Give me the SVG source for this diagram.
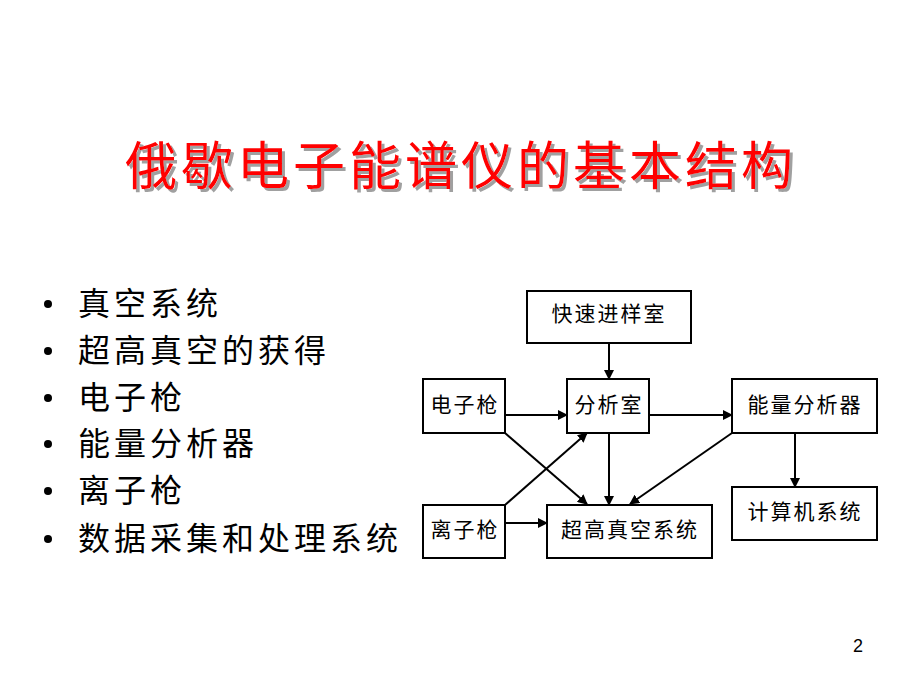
<svg xmlns="http://www.w3.org/2000/svg" width="920" height="690" viewBox="0 0 920 690">
<defs>
<marker id="ah" markerWidth="10" markerHeight="10" refX="9" refY="5" orient="auto" markerUnits="userSpaceOnUse">
<path d="M0,0 L10,5 L0,10 z" fill="#000"/>
</marker>
<filter id="sh" x="-5%" y="-20%" width="110%" height="140%">
<feDropShadow dx="3" dy="3" stdDeviation="0.6" flood-color="#888" flood-opacity="0.8"/>
</filter>
<style>
.box{fill:#fff;stroke:#000;stroke-width:2}
.lbl{font-family:"Noto Sans CJK SC","Liberation Sans",sans-serif;font-size:21px;fill:#000;text-anchor:middle;letter-spacing:2px}
.bul{font-family:"Noto Sans CJK SC","Liberation Sans",sans-serif;font-size:32px;fill:#000;letter-spacing:4px}
.con{stroke:#000;stroke-width:2;fill:none;marker-end:url(#ah)}
.title{font-family:"Noto Sans CJK SC","Liberation Sans",sans-serif;font-size:52px;font-weight:400;text-anchor:middle;letter-spacing:4px}
</style>
</defs>
<rect width="920" height="690" fill="#fff"/>
<g id="title">
<text class="title" x="461" y="185" fill="#ff0000" filter="url(#sh)">俄歇电子能谱仪的基本结构</text>
</g>
<g id="bullets">
<circle cx="48" cy="304" r="4" fill="#000"/>
<text class="bul" x="78" y="315">真空系统</text>
<circle cx="48" cy="351" r="4" fill="#000"/>
<text class="bul" x="78" y="362">超高真空的获得</text>
<circle cx="48" cy="398" r="4" fill="#000"/>
<text class="bul" x="78" y="409">电子枪</text>
<circle cx="48" cy="444" r="4" fill="#000"/>
<text class="bul" x="78" y="455">能量分析器</text>
<circle cx="48" cy="491" r="4" fill="#000"/>
<text class="bul" x="78" y="502">离子枪</text>
<circle cx="48" cy="539" r="4" fill="#000"/>
<text class="bul" x="78" y="550">数据采集和处理系统</text>
</g>
<g id="connectors">
<line class="con" x1="609" y1="343" x2="609" y2="379"/>
<line class="con" x1="505" y1="415" x2="567" y2="415"/>
<line class="con" x1="649" y1="415" x2="732" y2="415"/>
<line class="con" x1="609" y1="433" x2="609" y2="505"/>
<line class="con" x1="795" y1="433" x2="795" y2="487"/>
<line class="con" x1="505" y1="523" x2="547" y2="523"/>
<line class="con" x1="505" y1="433" x2="587" y2="504"/>
<line class="con" x1="505" y1="505" x2="587" y2="433"/>
<line class="con" x1="732" y1="433" x2="630" y2="504"/>
</g>
<g id="n-kuaisu">
<rect class="box" x="527" y="291" width="164" height="52"/>
<text class="lbl" x="609" y="321">快速进样室</text>
</g>
<g id="n-dianziqiang">
<rect class="box" x="423" y="379" width="82" height="54"/>
<text class="lbl" x="465" y="412">电子枪</text>
</g>
<g id="n-fenxishi">
<rect class="box" x="567" y="379" width="82" height="54"/>
<text class="lbl" x="609" y="412">分析室</text>
</g>
<g id="n-nengliang">
<rect class="box" x="732" y="379" width="145" height="54"/>
<text class="lbl" x="805" y="412">能量分析器</text>
</g>
<g id="n-jisuanji">
<rect class="box" x="732" y="487" width="145" height="53"/>
<text class="lbl" x="805" y="519">计算机系统</text>
</g>
<g id="n-liziqiang">
<rect class="box" x="423" y="505" width="82" height="53"/>
<text class="lbl" x="465" y="537">离子枪</text>
</g>
<g id="n-chaogao">
<rect class="box" x="547" y="505" width="165" height="53"/>
<text class="lbl" x="630" y="537">超高真空系统</text>
</g>
<text x="858" y="652" font-family="Liberation Sans, sans-serif" font-size="18" fill="#000" text-anchor="middle">2</text>
</svg>
